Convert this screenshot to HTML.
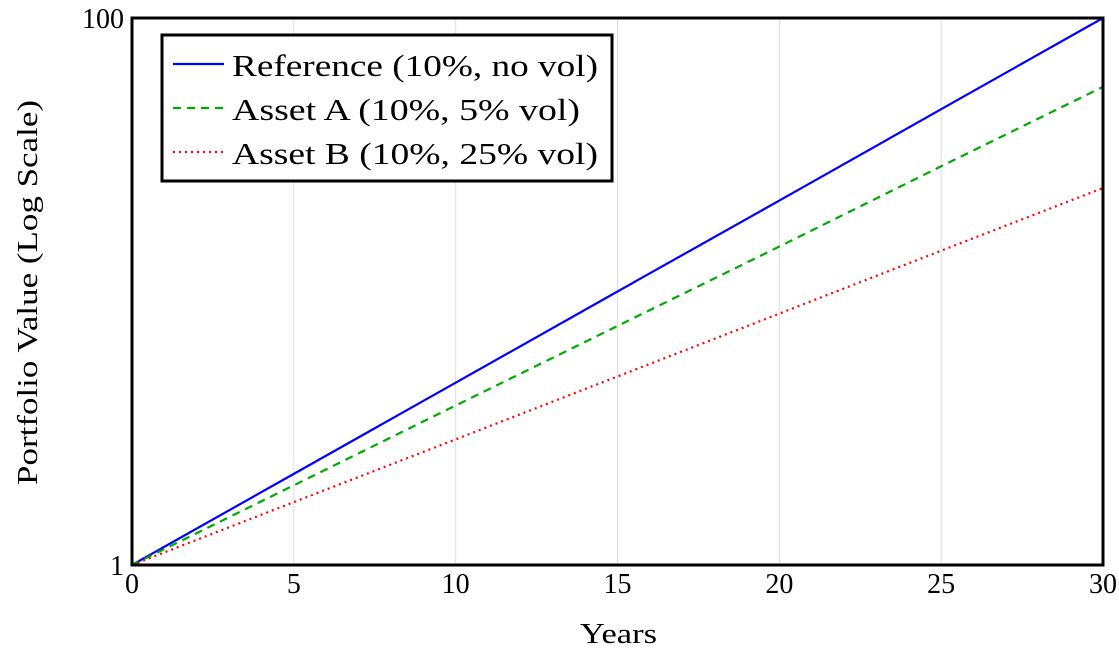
<!DOCTYPE html>
<html><head><meta charset="utf-8"><style>
body{margin:0;background:#fff;width:1119px;height:651px;overflow:hidden}
text{font-family:"Liberation Serif",serif;fill:#000}
</style></head><body>
<svg id="chart" width="1119" height="651" xmlns="http://www.w3.org/2000/svg">
<g id="grid"></g>
<g id="series"></g>
<rect x="132" y="18" width="971" height="547" fill="none" stroke="#000" stroke-width="3"/>
<g id="xticks"></g>
<g id="yticks"></g>
<text x="580" y="643" font-size="28" textLength="77" lengthAdjust="spacingAndGlyphs">Years</text>
<text transform="translate(37,485) rotate(-90)" font-size="28" textLength="385" lengthAdjust="spacingAndGlyphs">Portfolio Value (Log Scale)</text>
<g>
<rect x="162" y="35" width="450" height="146" fill="#fff" stroke="#000" stroke-width="3"/>
<line x1="173" y1="64" x2="224" y2="64" stroke="#0000ff" stroke-width="2.2"/>
<text x="232" y="76" font-size="31" textLength="366" lengthAdjust="spacingAndGlyphs">Reference (10%, no vol)</text>
<line x1="173" y1="108" x2="224" y2="108" stroke="#00aa00" stroke-width="2.2" stroke-dasharray="8,6"/>
<text x="232" y="120" font-size="31" textLength="348" lengthAdjust="spacingAndGlyphs">Asset A (10%, 5% vol)</text>
<line x1="173" y1="152" x2="224" y2="152" stroke="#ff0000" stroke-width="2.2" stroke-dasharray="2,4"/>
<text x="232" y="164" font-size="31" textLength="366" lengthAdjust="spacingAndGlyphs">Asset B (10%, 25% vol)</text>
</g>
</svg>
<script>
const years = [0, 5, 10, 15, 20, 25, 30];
const refValues = [1, 2.154, 4.64, 10, 21.5, 46.4, 100];
const assetAValues = [1, 1.956, 3.83, 7.48, 14.6, 28.7, 56];
const assetBValues = [1, 1.698, 2.88, 4.89, 8.30, 14.1, 23.9];
const xTicks = [0, 5, 10, 15, 20, 25, 30];
const yTicks = [1, 100];

const NS = "http://www.w3.org/2000/svg";
const X0 = 132, X1 = 1103, Y0 = 565, Y1 = 18;
function xs(v){ return X0 + (v - 0) / 30 * (X1 - X0); }
function ys(v){ return Y0 - (Math.log10(v) - 0) / 2 * (Y0 - Y1); }
function mk(tag, attrs){ const e = document.createElementNS(NS, tag); for (const k in attrs) e.setAttribute(k, attrs[k]); return e; }

const grid = document.getElementById('grid');
const xt = document.getElementById('xticks');
xTicks.forEach(t => {
  const g = mk('line', {x1: xs(t), x2: xs(t), y1: Y1, y2: Y0, stroke: '#dddddd', 'stroke-width': 1});
  
  
  grid.appendChild(g);
  const l = mk('text', {x: xs(t), y: 593, 'font-size': 28, 'text-anchor': 'middle'});
  l.textContent = t;
  
  
  xt.appendChild(l);
});
const yt = document.getElementById('yticks');
yTicks.forEach(t => {
  const l = mk('text', {x: 124, y: ys(t) + 10, 'font-size': 28, 'text-anchor': 'end'});
  l.textContent = t;
  
  
  yt.appendChild(l);
});
const series = document.getElementById('series');
function draw(vals, color, dash, name){
  const pts = years.map((y, i) => xs(y) + ',' + ys(vals[i])).join(' ');
  const p = mk('polyline', {points: pts, fill: 'none', stroke: color, 'stroke-width': 2.2});
  if (dash) p.setAttribute('stroke-dasharray', dash);
  
  
  series.appendChild(p);
}
draw(refValues, '#0000ff', null, 'reference-line');
draw(assetAValues, '#00aa00', '8,6', 'asset-a-line');
draw(assetBValues, '#ff0000', '2,4', 'asset-b-line');
</script>
</body></html>
